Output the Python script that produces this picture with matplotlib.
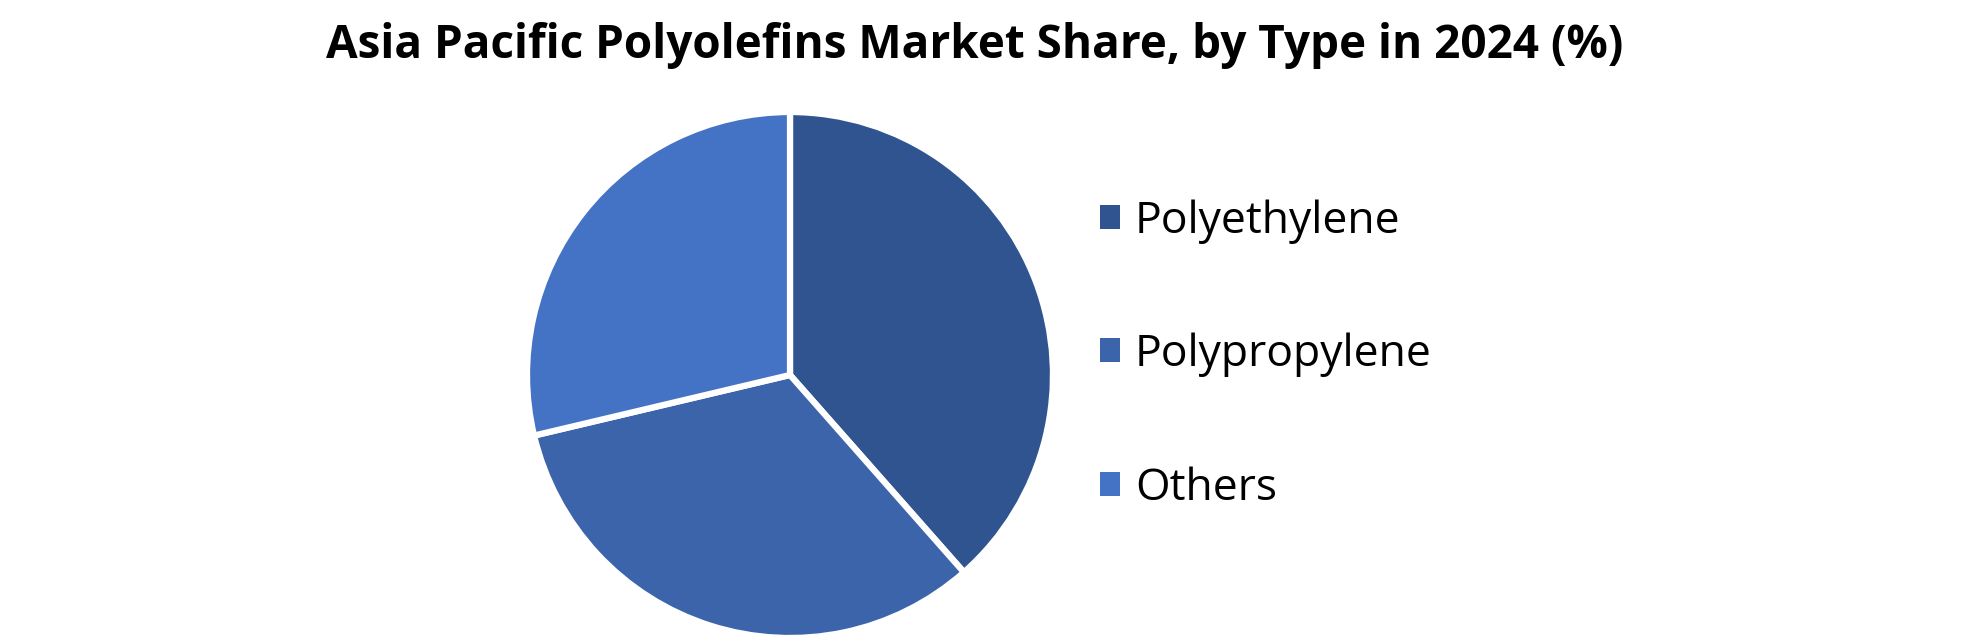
import matplotlib.pyplot as plt

# Data
types = ['Polyethylene', 'Polypropylene', 'Others']
shares = [38.5, 32.8, 28.7]
colors = ['#30548F', '#3C64AA', '#4472C4']

title = 'Asia Pacific Polyolefins Market Share, by Type in 2024 (%)'

plt.rcParams['font.family'] = ['Open Sans', 'DejaVu Sans']

fig = plt.figure(figsize=(19.8, 6.41), dpi=100)
fig.patch.set_facecolor('white')

# pie axes placed in pixels: centre (790, 375), radius 263
W, H = 1980, 641
cx, cy, r = 790, 375, 263
ax = fig.add_axes([(cx - r) / W, (H - cy - r) / H, 2 * r / W, 2 * r / H])
wedges, _ = ax.pie(shares, colors=colors, startangle=90, counterclock=False,
                   radius=1.0, wedgeprops=dict(edgecolor='white', linewidth=4.5))
ax.set_xlim(-1.0, 1.0)
ax.set_ylim(-1.0, 1.0)
ax.set_aspect('equal')
ax.axis('off')

fig.text(975 / W, 1 - 58 / H, title, ha='center', va='baseline',
         fontsize=33, fontweight='bold', color='black')

leg = fig.legend(wedges, types, loc='center left',
                 bbox_to_anchor=(1100 / W, 1 - 355 / H),
                 frameon=False, fontsize=32, labelspacing=2.0,
                 handlelength=0.45, handleheight=0.45, handletextpad=0.34,
                 borderpad=0, borderaxespad=0)
for p in leg.get_patches():
    p.set_edgecolor('none')

fig.savefig('out.png', dpi=100, facecolor='white')
